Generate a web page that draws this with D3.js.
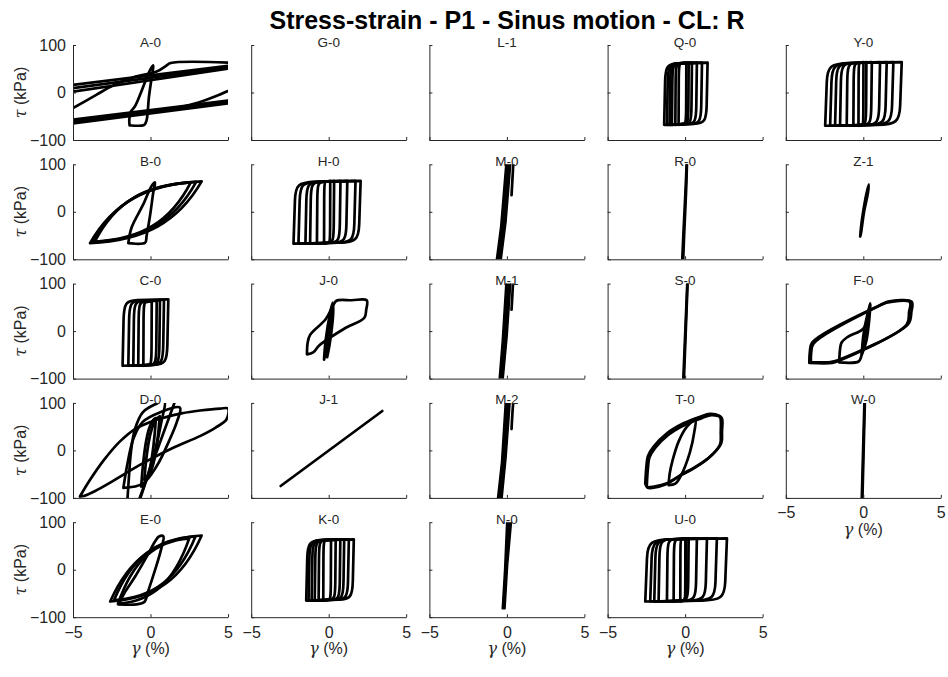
<!DOCTYPE html>
<html>
<head>
<meta charset="utf-8">
<title>Stress-strain</title>
<script src="https://d3js.org/d3.v7.min.js"></script>
<style>
  body { margin: 0; background: #fff; }
  text { font-family: "Liberation Sans", Arial, Helvetica, sans-serif; fill: #262626; }
</style>
</head>
<body>
<div id="fig"></div>
<script>
// ---- data (gamma in %, tau in kPa) ----
var mainTitle = "Stress-strain - P1 - Sinus motion - CL: R";
var panelTitles = ["A-0","G-0","L-1","Q-0","Y-0",
                   "B-0","H-0","M-0","R-0","Z-1",
                   "C-0","J-0","M-1","S-0","F-0",
                   "D-0","J-1","M-2","T-0","W-0",
                   "E-0","K-0","N-0","U-0"];
var xDomain = [-5, 5], yDomain = [-100, 100];
var xTicks = [-5, 0, 5], yTicks = [-100, 0, 100];

// loop = [gamma at left reversal, tau there, gamma at right reversal, tau there]
var loopsQ0 = [[-1.35,-68,1.45,63],[-1.17,-68,1.09,63],[-1.0,-68,0.76,63],[-0.85,-68,0.44,63],[-0.63,-68,0.23,63],[-0.42,-68,0.08,63]];
var loopsY0 = [[-2.46,-70,2.48,64],[-2.14,-70,1.94,64],[-1.82,-70,1.51,64],[-1.5,-70,1.08,64],[-1.07,-70,0.55,64],[-0.64,-70,0.2,64],[-0.31,-70,0.01,64]];
var loopsH0 = [[-2.27,-67,2.06,65],[-1.95,-67,1.73,65],[-1.5,-67,1.2,65],[-1.2,-67,0.76,65],[-0.76,-67,0.35,65],[-0.3,-67,0.1,65]];
var loopsC0 = [[-1.8,-73,1.15,67],[-1.43,-73,0.87,66],[-1.11,-73,0.61,65],[-0.79,-73,0.4,64],[-0.46,-73,0.08,63]];
var loopsK0 = [[-1.45,-65,1.62,64],[-1.3,-65,1.3,64],[-1.1,-65,1.0,64],[-0.9,-65,0.75,64],[-0.65,-65,0.45,64],[-0.35,-65,0.15,64]];
var loopsU0 = [[-2.57,-67,2.7,66],[-2.25,-67,2.05,66],[-1.99,-67,1.41,66],[-1.71,-67,0.76,66],[-1.17,-67,0.23,66],[-0.74,-67,0.08,66],[-0.31,-67,0.02,66]];

var lensB0 = [[-3.9,-66,3.3,64],[-3.75,-64,2.95,63],[-3.6,-63,2.6,62]];
var lensE0 = [[-2.6,-67,3.3,72],[-2.35,-64,2.9,70],[-2.1,-72,2.5,66]];
var lensD0 = [[-0.6,-76,0.35,68],[-0.4,-62,0.6,72]];

// traced curves
var pathsA0 = [
  [[-5,16],[5,56]],
  [[-5,9],[5,53]],
  [[-5,2],[5,50]],
  [[-5,-33],[-3.5,-5],[-2.4,15],[-1.1,32],[0.4,44],[1.0,56],[1.3,62],[5,63]],
  [[-5,-57],[5,-17]],
  [[-5,-61],[5,-20]],
  [[-5,-65],[5,-23]],
  [[-5,-63],[1.8,-32],[3.0,-22],[4.2,-8],[5,3]],
  [[-1.35,-69],[-1.37,-58],[-1.28,-41],[-1.0,-29],[-0.03,47],[0.18,57],[0.08,33],[-0.1,-9],[-0.25,-58],[-0.4,-68],[-1.35,-69]]
];
var pathsB0 = [
  [[-1.43,-66],[-1.22,-33],[-0.46,16],[0.08,55],[0.29,62],[0.18,41],[-0.03,-8],[-0.25,-50],[-0.35,-65],[-1.43,-66]]
];
var pathsR0 = [
  [[-0.18,-98],[-0.1,-40],[0.02,40],[0.1,100]],
  [[-0.12,-98],[-0.05,-40],[0.06,40],[0.12,100]]
];
var pathsZ1 = [
  [[-0.2,-52],[-0.1,-20],[0.15,30],[0.35,58],[0.3,40],[0.05,0],[-0.15,-45],[-0.2,-52]]
];
var pathsJ0 = [
  [[-1.4,-49],[-1.36,-25],[-1.2,-8],[-0.2,25],[0.3,55],[0.5,64],[1.5,65],[2.45,65],[2.42,45],[2.3,28],[1.0,5],[-0.6,-30],[-1.0,-45],[-1.4,-49]],
  [[-0.3,-60],[-0.2,-20],[0.1,40],[0.25,60],[0.15,20],[-0.1,-30],[-0.3,-60]],
  [[-0.1,-55],[0.0,-10],[0.2,40],[0.3,55],[0.25,20],[0.05,-30],[-0.1,-55]]
];
var pathsM0 = [[[0.3,35],[0.36,70],[0.42,105]]];
var pathsM1 = [[[0.3,45],[0.36,80],[0.4,105]]];
var pathsM2 = [[[0.3,45],[0.36,80],[0.42,105]]];
var pathsS0 = [
  [[-0.12,-105],[0.14,100]],
  [[-0.08,-105],[0.16,100]]
];
var pathsF0 = [
  [[-3.48,-67],[-3.45,-45],[-3.3,-24],[1.3,58],[1.6,62],[3.12,62],[3.1,40],[2.9,15],[-1.6,-63],[-2.0,-67],[-3.48,-67]],
  [[-3.38,-65],[-3.36,-45],[-3.2,-26],[1.2,56],[1.5,60],[3.0,61],[2.95,40],[2.8,14],[-1.7,-62],[-2.1,-65],[-3.38,-65]],
  [[-1.55,-66],[-1.52,-45],[-1.4,-24],[-1.0,-12],[0.0,5],[0.3,30],[0.45,58],[0.35,30],[0.05,-20],[-0.15,-55],[-0.3,-64],[-1.55,-66]],
  [[-0.1,-50],[0.0,-10],[0.3,40],[0.45,58],[0.4,30],[0.2,-20],[-0.1,-50]]
];
var pathsD0 = [
  [[-4.55,-97],[-3.9,-62],[-3.0,-20],[-2.0,18],[-1.0,45],[0,60],[1.0,70],[2.0,78],[3.2,84],[4.5,88],[5,88],[4.9,65],[4.2,48],[3.19,30],[1.5,6],[-0.03,-19],[-1.4,-44],[-2.6,-68],[-3.6,-86],[-4.3,-96],[-4.55,-97]],
  [[-1.5,-110],[-1.4,-60],[-1.25,0],[-1.0,45],[-0.5,80],[0.3,97],[0.9,104],[0.7,60],[0.3,0],[-0.2,-55],[-0.7,-105]],
  [[-1.75,-79],[-1.5,-30],[-1.1,25],[-0.5,60],[0.6,80],[1.9,90],[1.7,60],[1.2,20],[0.4,-33],[-0.5,-70],[-1.75,-79]],
  [[-0.75,-105],[1.6,105]]
];
var pathsJ1 = [
  [[-3.1,-75],[3.46,83]]
];
var pathsT0 = [
  [[-2.57,-70],[-2.5,-35],[-2.4,-12],[-2.03,8],[-1.17,36],[-0.1,57],[0.98,71],[1.6,77],[2.2,73],[2.38,67],[2.38,40],[2.33,15],[1.62,-13],[0.5,-38],[-0.1,-48],[-1.17,-69],[-2.0,-76],[-2.45,-77],[-2.57,-70]],
  [[-2.47,-74],[-2.4,-38],[-2.3,-15],[-1.93,5],[-1.07,33],[0,54],[1.08,68],[1.7,74],[2.25,70],[2.3,64],[2.3,38],[2.25,12],[1.52,-16],[0.4,-41],[-0.2,-51],[-1.27,-72],[-2.1,-79],[-2.4,-79],[-2.47,-74]],
  [[-1.06,-73],[-1.0,-50],[-0.8,-20],[-0.4,20],[0.12,50],[0.66,64],[0.6,40],[0.3,-5],[-0.3,-55],[-0.63,-70],[-1.06,-73]]
];
var pathsW0 = [
  [[-0.1,-105],[0.07,100]],
  [[-0.06,-105],[0.1,100]]
];
var pathsE0 = [
  [[-2.07,-73],[-1.7,-50],[-1.0,-15],[-0.2,30],[0.3,60],[0.55,70],[0.83,70],[0.7,45],[0.3,0],[-0.15,-45],[-0.4,-68],[-0.9,-73],[-2.07,-73]]
];

// narrow, nearly elastic loops that print as solid bands (outline, filled)
var bandM0 = [[-0.7,-105],[-0.4,-30],[-0.06,105],[0.26,105],[-0.05,-20],[-0.38,-105]];
var bandM1 = [[-0.51,-105],[-0.3,-20],[-0.06,105],[0.26,105],[0.02,-10],[-0.25,-105]];
var bandM2 = [[-0.62,-105],[-0.35,-25],[-0.1,105],[0.22,105],[-0.05,-15],[-0.32,-105]];
var bandN0 = [[-0.3,-82],[-0.15,0],[-0.01,105],[0.31,105],[0.05,10],[-0.12,-82]];

// loop outline presets: corner offset in x, corner offset in y, rounding share, pull
var rectShape = [0.03, 0.02, 0.3, 0.85];
var lensShape = [0.3, 0.06, 1, 0.7];

var panelData = {
  "A-0": {paths: pathsA0},
  "Q-0": {rect: loopsQ0},
  "Y-0": {rect: loopsY0},
  "B-0": {lens: lensB0, paths: pathsB0},
  "H-0": {rect: loopsH0},
  "M-0": {band: bandM0, paths: pathsM0},
  "R-0": {paths: pathsR0},
  "Z-1": {paths: pathsZ1},
  "C-0": {rect: loopsC0},
  "J-0": {paths: pathsJ0},
  "M-1": {band: bandM1, paths: pathsM1},
  "S-0": {paths: pathsS0},
  "F-0": {paths: pathsF0},
  "D-0": {lens: lensD0, paths: pathsD0},
  "J-1": {paths: pathsJ1},
  "M-2": {band: bandM2, paths: pathsM2},
  "T-0": {paths: pathsT0},
  "W-0": {paths: pathsW0},
  "E-0": {lens: lensE0, paths: pathsE0},
  "K-0": {rect: loopsK0},
  "N-0": {band: bandN0},
  "U-0": {rect: loopsU0}
};

// ---- layout ----
var W = 948, H = 677;
var colX = [73, 251.2, 429.4, 607.6, 785.8];
var rowY = [45, 164.3, 283.6, 402.9, 522.2];
var pw = 155, ph = 95;
var lineW = 2.7;

var svg = d3.select("#fig").append("svg")
  .attr("width", W)
  .attr("height", H);

svg.append("text")
  .attr("x", 507)
  .attr("y", 29)
  .attr("text-anchor", "middle")
  .style("font-weight", "bold")
  .style("font-size", "25px")
  .style("fill", "#000")
  .text(mainTitle);

function mix(a, b, t) { return [a[0] + (b[0] - a[0]) * t, a[1] + (b[1] - a[1]) * t]; }

// outline of one hysteresis loop between its two reversal points
function loopPath(lp, shape, x, y) {
  var L = [lp[0], lp[1]], R = [lp[2], lp[3]];
  var dx = R[0] - L[0], dy = R[1] - L[1];
  var e = shape[0], h = shape[1], r = shape[2], k = shape[3];
  var Q1 = [L[0] + e * dx, R[1] - h * dy];
  var Q2 = [R[0] - e * dx, L[1] + h * dy];
  var p = d3.path();
  function P(a) { return [x(a[0]), y(a[1])]; }
  function branch(S, Q, T, first) {
    var A = mix(Q, S, r), B = mix(Q, T, r);
    var s = P(S), a = P(A), b = P(B), c1 = P(mix(A, Q, k)), c2 = P(mix(B, Q, k)), t = P(T);
    if (first) p.moveTo(s[0], s[1]);
    p.lineTo(a[0], a[1]);
    p.bezierCurveTo(c1[0], c1[1], c2[0], c2[1], b[0], b[1]);
    p.lineTo(t[0], t[1]);
  }
  branch(L, Q1, R, true);
  branch(R, Q2, L, false);
  p.closePath();
  return p.toString();
}

panelTitles.forEach(function(name, i) {
  var row = Math.floor(i / 5), col = i % 5;
  var g = svg.append("g").attr("transform", "translate(" + colX[col] + "," + rowY[row] + ")");

  var x = d3.scaleLinear().domain(xDomain).range([0, pw]);
  var y = d3.scaleLinear().domain(yDomain).range([ph, 0]);

  g.append("clipPath").attr("id", "clip" + i)
    .append("rect").attr("width", pw).attr("height", ph);
  var plot = g.append("g").attr("clip-path", "url(#clip" + i + ")");

  var d = panelData[name] || {};
  var lineGen = d3.line()
    .x(function(p) { return x(p[0]); })
    .y(function(p) { return y(p[1]); })
    .curve(d3.curveCatmullRom.alpha(0.5));

  function drawLoops(list, shape) {
    plot.selectAll(null)
      .data(list || [])
      .enter()
      .append("path")
      .attr("d", function(lp) { return loopPath(lp, shape, x, y); })
      .attr("fill", "none")
      .attr("stroke", "#000")
      .attr("stroke-width", lineW)
      .attr("stroke-linejoin", "round");
  }
  drawLoops(d.rect, rectShape);
  drawLoops(d.lens, lensShape);

  if (d.band) {
    plot.append("path")
      .attr("d", d3.line().x(function(p) { return x(p[0]); }).y(function(p) { return y(p[1]); })
        .curve(d3.curveLinearClosed)(d.band))
      .attr("fill", "#000")
      .attr("stroke", "#000")
      .attr("stroke-width", 1.5)
      .attr("stroke-linejoin", "round");
  }

  plot.selectAll(null)
    .data(d.paths || [])
    .enter()
    .append("path")
    .attr("d", lineGen)
    .attr("fill", "none")
    .attr("stroke", "#000")
    .attr("stroke-width", lineW)
    .attr("stroke-linejoin", "round")
    .attr("stroke-linecap", "round");

  // axes, ticks pointing inward like the original
  var showY = col === 0;
  var showX = row === 4 || (row === 3 && col === 4);

  var yAxis = d3.axisLeft(y).tickValues(yTicks).tickSizeInner(-3).tickSizeOuter(0).tickPadding(7)
    .tickFormat(showY ? d3.format("d") : function() { return ""; });
  var xAxis = d3.axisBottom(x).tickValues(xTicks).tickSizeInner(-3).tickSizeOuter(0).tickPadding(9)
    .tickFormat(showX ? d3.format("d") : function() { return ""; });

  var ya = g.append("g").call(yAxis);
  var xa = g.append("g").attr("transform", "translate(0," + ph + ")").call(xAxis);
  [ya, xa].forEach(function(a) {
    a.selectAll("path, line").attr("stroke", "#262626").attr("stroke-width", 1);
    a.selectAll("text").style("font-size", "16px").style("font-family", "'Liberation Sans', Arial, sans-serif").attr("fill", "#262626");
  });

  g.append("text")
    .attr("x", pw / 2)
    .attr("y", 1.5)
    .attr("text-anchor", "middle")
    .style("font-size", "13.5px")
    .text(name);

  if (showY) {
    var yl = g.append("text")
      .attr("transform", "translate(-47," + (ph / 2) + ") rotate(-90)")
      .attr("text-anchor", "middle")
      .style("font-size", "16px");
    yl.append("tspan").style("font-family", "'DejaVu Serif', serif").style("font-style", "italic").text("\u03C4");
    yl.append("tspan").text(" (kPa)");
  }
  if (showX) {
    var xl = g.append("text")
      .attr("x", pw / 2)
      .attr("y", ph + 37)
      .attr("text-anchor", "middle")
      .style("font-size", "16px");
    xl.append("tspan").style("font-family", "'DejaVu Serif', serif").style("font-style", "italic").text("\u03B3");
    xl.append("tspan").text(" (%)");
  }
});
</script>
</body>
</html>
